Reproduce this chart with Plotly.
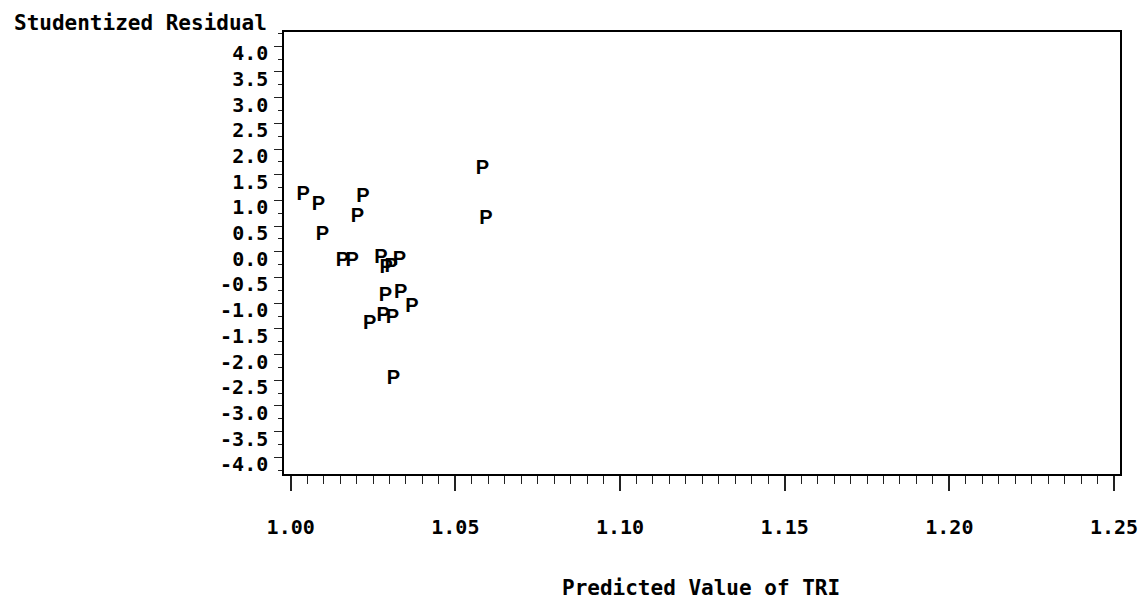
import plotly.graph_objects as go

# Predicted value of TRI (x) and studentized residual (y)
pred_tri = [1.0582, 1.0038, 1.0084, 1.0219, 1.0203, 1.0593, 1.0096, 1.0157, 1.0187, 1.0274,
            1.0290, 1.0305, 1.0330, 1.0288, 1.0334, 1.0368, 1.0281, 1.0309, 1.0240, 1.0312]
stud_resid = [1.607, 1.101, 0.907, 1.068, 0.679, 0.648, 0.323, -0.183, -0.183, -0.130,
              -0.325, -0.294, -0.163, -0.858, -0.811, -1.072, -1.253, -1.298, -1.409, -2.484]
plot_symbol = ["P"] * len(pred_tri)

x_tickvals = [1.00, 1.05, 1.10, 1.15, 1.20, 1.25]
y_tickvals = [4.0, 3.5, 3.0, 2.5, 2.0, 1.5, 1.0, 0.5, 0.0, -0.5, -1.0, -1.5, -2.0, -2.5, -3.0, -3.5, -4.0]
x_ticktext = ["%.2f" % v for v in x_tickvals]
y_ticktext = ["%.1f" % v for v in y_tickvals]

MONO = "DejaVu Sans Mono"

fig = go.Figure()
fig.add_trace(go.Scatter(
    x=pred_tri, y=stud_resid, mode="text", text=plot_symbol,
    textposition="middle center",
    textfont=dict(family="Liberation Sans", size=20, color="black", weight="bold"),
    hoverinfo="x+y", showlegend=False,
))

W, H = 1142, 600
L, R, T, B = 284, 22, 32, 126

fig.update_layout(
    width=W, height=H, autosize=False,
    margin=dict(l=L, r=R, t=T, b=B, pad=0, autoexpand=False),
    paper_bgcolor="white", plot_bgcolor="white",
    font=dict(family=MONO, size=20, color="black", weight="bold"),
    xaxis=dict(
        range=[0.99797, 1.25182], showgrid=False, zeroline=False,
        showline=True, linecolor="black", linewidth=1.5, mirror=True,
        tickmode="array", tickvals=x_tickvals, ticktext=x_ticktext,
        ticks="outside", ticklen=15, tickwidth=1.5, tickcolor="#222",
        ticklabelstandoff=19, automargin=False,
        tickfont=dict(family=MONO, size=20, color="black", weight="bold"),
        minor=dict(tick0=1.0, dtick=0.005, ticks="outside", ticklen=8,
                   tickwidth=1.2, tickcolor="#222", showgrid=False),
    ),
    yaxis=dict(
        range=[-4.325, 4.278], showgrid=False, zeroline=False,
        showline=True, linecolor="black", linewidth=1.5, mirror=True,
        tickmode="array", tickvals=y_tickvals, ticktext=y_ticktext,
        ticks="outside", ticklen=8, tickwidth=1.2, tickcolor="#222",
        ticklabelshift=7, ticklabelstandoff=2, automargin=False,
        tickfont=dict(family=MONO, size=20, color="black", weight="bold"),
        minor=dict(tick0=0, dtick=0.25, ticks="outside", ticklen=4,
                   tickwidth=1.2, tickcolor="#222", showgrid=False),
    ),
    annotations=[
        dict(text="Studentized Residual", xref="paper", yref="paper",
             x=(269 - L) / (W - L - R), y=(H - B - 23) / (H - T - B),
             xanchor="right", yanchor="middle", showarrow=False,
             font=dict(family=MONO, size=21, color="black", weight="bold")),
        dict(text="Predicted Value of TRI", xref="paper", yref="paper",
             x=(701 - L) / (W - L - R), y=(H - B - 588) / (H - T - B),
             xanchor="center", yanchor="middle", showarrow=False,
             font=dict(family=MONO, size=21, color="black", weight="bold")),
    ],
)

fig.write_html("out.html",
               config={"responsive": False, "displayModeBar": False},
               post_script="document.body.style.margin='0';")
